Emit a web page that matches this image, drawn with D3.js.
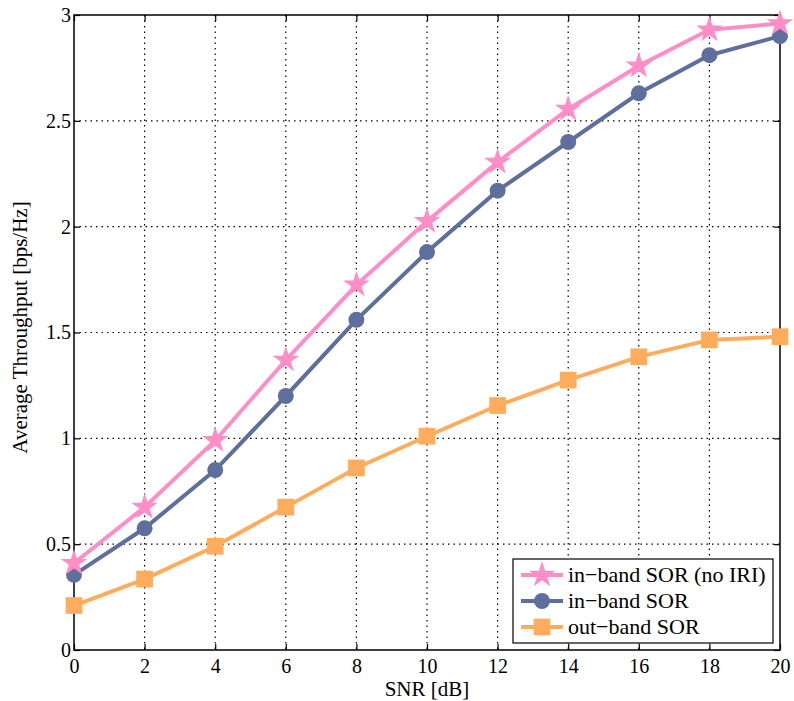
<!DOCTYPE html>
<html>
<head>
<meta charset="utf-8">
<script src="https://cdn.jsdelivr.net/npm/d3@7"></script>
<style>
  body { margin: 0; background: #fff; }
  text { font-family: "Liberation Serif", "Times New Roman", serif; fill: #000; }
</style>
</head>
<body>
<div id="chart"></div>
<script>
const snr = [0, 2, 4, 6, 8, 10, 12, 14, 16, 18, 20]
const inbandNoIri = [0.41, 0.675, 0.99, 1.37, 1.725, 2.025, 2.305, 2.555, 2.76, 2.93, 2.96]
const inband = [0.355, 0.575, 0.85, 1.2, 1.56, 1.88, 2.17, 2.4, 2.63, 2.81, 2.9]
const outband = [0.21, 0.335, 0.49, 0.675, 0.86, 1.01, 1.155, 1.275, 1.385, 1.465, 1.48]
const xTicks = [0, 2, 4, 6, 8, 10, 12, 14, 16, 18, 20]
const yTicks = [0, 0.5, 1, 1.5, 2, 2.5, 3]

const series = [
  { name: 'in\u2212band SOR (no IRI)', values: inbandNoIri, color: '#ff8ec6', marker: 'star' },
  { name: 'in\u2212band SOR', values: inband, color: '#5e6f9d', marker: 'circle' },
  { name: 'out\u2212band SOR', values: outband, color: '#ffad5c', marker: 'square' }
]

const margin = { top: 15, right: 14, bottom: 51, left: 74 }
const width = 794 - margin.left - margin.right
const height = 701 - margin.top - margin.bottom

const svg = d3.select('#chart').append('svg')
    .attr('width', 794)
    .attr('height', 701)
  .append('g')
    .attr('transform', 'translate(' + margin.left + ',' + margin.top + ')')

const x = d3.scaleLinear().domain([0, 20]).range([0, width])
const y = d3.scaleLinear().domain([0, 3]).range([height, 0])

// dotted grid
svg.append('g').selectAll('line')
  .data(xTicks.slice(1, -1))
  .join('line')
  .attr('x1', d => x(d)).attr('x2', d => x(d))
  .attr('y1', 0).attr('y2', height)
  .attr('stroke', '#000').attr('stroke-width', 1.2)
  .attr('stroke-dasharray', '1.5,4')

svg.append('g').selectAll('line')
  .data(yTicks.slice(1, -1))
  .join('line')
  .attr('x1', 0).attr('x2', width)
  .attr('y1', d => y(d)).attr('y2', d => y(d))
  .attr('stroke', '#000').attr('stroke-width', 1.2)
  .attr('stroke-dasharray', '1.5,4')

// axes with inward ticks on all sides
function styleAxis (g) {
  g.attr('font-size', 20).attr('font-family', '"Liberation Serif", serif')
  g.select('.domain').remove()
  g.selectAll('.tick line').attr('stroke', '#000').attr('stroke-width', 1.2)
}

svg.append('g')
  .attr('transform', 'translate(0,' + height + ')')
  .call(d3.axisBottom(x).tickValues(xTicks).tickSize(-6).tickPadding(9).tickFormat(d3.format('d')))
  .call(styleAxis)

svg.append('g')
  .call(d3.axisTop(x).tickValues(xTicks).tickSize(-6).tickFormat(''))
  .call(styleAxis)

svg.append('g')
  .call(d3.axisLeft(y).tickValues(yTicks).tickSize(-6).tickPadding(3).tickFormat(d3.format('')))
  .call(styleAxis)

svg.append('g')
  .attr('transform', 'translate(' + width + ',0)')
  .call(d3.axisRight(y).tickValues(yTicks).tickSize(-6).tickFormat(''))
  .call(styleAxis)

svg.append('rect')
  .attr('width', width).attr('height', height)
  .attr('fill', 'none').attr('stroke', '#000').attr('stroke-width', 1.5)

// lines and markers
const line = d3.line()
  .x((d, i) => x(snr[i]))
  .y(d => y(d))

const symbolFor = {
  star: d3.symbol().type(d3.symbolStar).size(220),
  circle: d3.symbol().type(d3.symbolCircle).size(200),
  square: d3.symbol().type(d3.symbolSquare).size(280)
}

series.slice().reverse().forEach(s => {
  svg.append('path')
    .datum(s.values)
    .attr('d', line)
    .attr('fill', 'none')
    .attr('stroke', s.color)
    .attr('stroke-width', 4)

  svg.append('g').selectAll('path')
    .data(s.values)
    .join('path')
    .attr('transform', (d, i) => 'translate(' + x(snr[i]) + ',' + y(d) + ')')
    .attr('d', symbolFor[s.marker])
    .attr('fill', s.color)
})

// axis labels
svg.append('text')
  .text('SNR [dB]')
  .attr('x', width / 2)
  .attr('y', height + 46)
  .attr('text-anchor', 'middle')
  .attr('font-size', 21)

svg.append('text')
  .text('Average Throughput [bps/Hz]')
  .attr('transform', 'translate(-47,' + (height / 2 - 5) + ') rotate(-90)')
  .attr('text-anchor', 'middle')
  .attr('font-size', 21)

// legend
const legend = svg.append('g')
  .attr('transform', 'translate(' + (513 - margin.left) + ',' + (559 - margin.top) + ')')

legend.append('rect')
  .attr('width', 260).attr('height', 84)
  .attr('fill', '#fff').attr('stroke', '#000').attr('stroke-width', 1.2)

const rows = legend.selectAll('g.row')
  .data(series)
  .join('g')
  .attr('class', 'row')
  .attr('transform', (d, i) => 'translate(0,' + (16 + i * 26) + ')')

rows.append('line')
  .attr('x1', 8).attr('x2', 50)
  .attr('stroke', d => d.color).attr('stroke-width', 4)

rows.append('path')
  .attr('transform', 'translate(29,0)')
  .attr('d', d => symbolFor[d.marker]())
  .attr('fill', d => d.color)

rows.append('text')
  .text(d => d.name)
  .attr('x', 55)
  .attr('dy', 7)
  .attr('font-size', 22)
</script>
</body>
</html>
